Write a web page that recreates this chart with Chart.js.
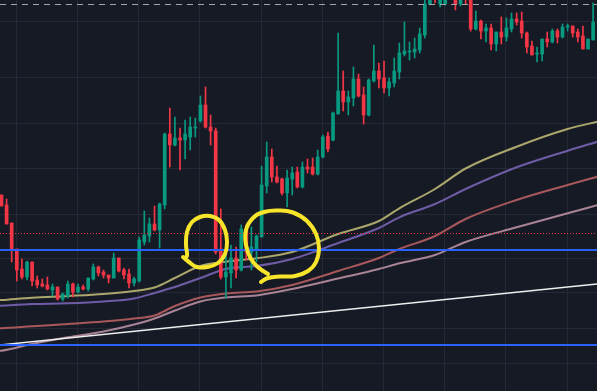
<!DOCTYPE html>
<html><head><meta charset="utf-8">
<script src="https://cdn.jsdelivr.net/npm/chart.js@4.4.0/dist/chart.umd.min.js"></script>
<style>html,body{margin:0;padding:0;background:#161a25;overflow:hidden}#wrap{width:597px;height:391px}canvas{display:block;background:#161a25}</style>
</head><body><div id="wrap"><canvas id="c" width="597" height="391"></canvas></div>
<script>
// Candles (index 0..116), price units
const opens = [19.6,18.6,16.8,14.2,12.2,11.4,12.9,11.1,10.7,10.6, 10.1,10.4,9.2,9.5,10.7,9.9,10.4,10.2,11.2,12.4, 11.9,11.6,11.3,13.3,12.1,11.7,10.8,11.0,14.9,15.5, 16.7,16.1,18.6,25.7,24.6,25.3,25.1,25.4,26.3,27.0, 28.6,26.4,26.0,14.2,11.4,11.8,13.3,12.1,16.1,13.9, 14.2,15.4,20.5,23.4,21.4,21.2,19.8,21.2,21.9,20.4, 22.4,22.4,21.7,23.4,25.5,25.1,27.7,30.0,28.9,29.3, 31.2,29.6,27.6,31.0,32.0,31.3,30.3,30.8,31.9,33.7, 33.9,33.9,34.1,35.6,38.7,40.8,38.7,38.7,40.5,40.5, 38.7,40.5,39.6,36.2,37.0,36.0,36.3,34.7,35.9,35.4, 36.2,37.2,37.0,35.8,34.5,33.7,33.7,35.2,34.9,36.0, 35.4,36.4,36.5,35.9,35.5,34.2,35.1];
const closes = [18.5,16.7,14.1,12.1,11.4,12.9,11.0,10.6,10.5,10.2, 10.4,9.2,9.7,10.7,9.9,10.4,10.2,11.3,12.4,11.8, 11.6,11.3,13.3,12.0,11.6,10.8,11.2,15.1,15.6,16.7, 16.1,18.7,25.7,24.6,25.3,25.1,25.7,26.4,26.4,28.6, 26.4,26.0,13.9,11.4,11.9,13.3,12.1,16.2,13.9,14.4, 15.5,20.6,23.4,21.4,20.9,19.8,21.3,21.8,20.4,22.4, 22.2,21.7,23.4,25.4,24.2,27.8,30.0,28.9,29.4,31.2, 29.5,27.6,31.1,32.0,31.2,30.3,30.9,32.0,33.8,34.0, 34.0,34.2,35.7,38.7,40.5,40.0,40.2,39.8,41.5,38.7, 40.0,39.5,36.2,37.0,36.0,36.3,34.7,35.9,35.4,36.3, 37.2,36.9,35.8,34.4,33.6,33.8,35.2,34.9,36.0,35.4, 36.4,36.5,35.8,35.4,34.2,35.2,36.9];
const highs = [19.6,19.2,16.8,14.2,13.2,13.0,12.9,11.5,11.2,11.4, 10.7,10.4,9.8,11.0,10.8,10.7,10.6,11.3,12.7,12.5, 12.1,11.6,13.8,13.3,12.3,12.2,11.4,15.4,18.0,17.3, 18.5,18.8,25.8,28.3,27.4,26.3,27.1,27.4,27.3,29.5, 30.4,27.6,26.3,18.2,14.4,14.6,14.4,16.6,16.6,16.4, 15.6,22.5,24.9,24.2,22.5,21.3,22.1,22.4,22.4,22.9, 23.2,23.3,24.1,25.6,25.9,27.9,35.8,32.0,30.0,32.4, 31.7,30.4,31.2,34.6,32.8,33.0,31.3,33.3,34.8,36.9, 34.9,35.3,36.3,39.6,41.0,41.5,41.0,40.5,42.0,41.0, 40.5,41.0,40.0,38.0,37.1,36.7,36.7,35.9,37.4,37.3, 37.8,37.8,37.9,35.9,35.0,34.4,35.2,35.9,36.2,36.2, 36.7,36.7,36.5,36.2,36.5,35.2,38.8];
const lows = [18.5,16.7,12.9,11.0,11.2,11.1,10.5,10.3,10.4,10.1, 9.5,9.1,9.0,9.3,9.4,9.8,10.1,10.0,11.1,11.5, 11.3,10.8,11.3,11.9,11.2,10.3,10.5,10.9,14.6,14.9, 16.0,14.3,18.2,22.4,24.5,22.1,23.2,24.1,25.4,26.9, 26.3,24.6,13.7,11.2,9.3,10.3,11.3,12.0,13.1,12.1, 12.9,15.4,19.8,20.9,20.8,19.6,18.4,19.6,20.3,20.3, 21.8,21.6,21.6,23.3,23.9,25.0,27.7,28.0,27.6,28.5, 29.4,26.7,27.5,30.9,30.3,29.8,29.5,30.4,31.2,33.5, 33.1,33.3,33.8,35.3,38.6,38.8,38.4,38.6,40.0,38.1, 38.5,38.7,36.0,36.1,35.2,34.9,34.1,34.0,34.7,35.0, 35.9,36.6,35.3,33.8,33.6,32.9,33.0,34.4,34.8,34.8, 35.3,36.0,35.4,34.9,34.2,34.2,35.1];

// Moving averages sampled at candle indices
const maIndex  = [-1, 0, 6, 13, 20, 26, 30, 34, 39, 44, 50, 57, 66, 74, 78, 85, 91, 101, 111, 117];
const maYellow = [9.07, 9.1, 9.33, 9.5, 9.7, 10.0, 10.35, 11.3, 12.5, 12.93, 13.27, 13.9, 15.7, 17.0, 18.27, 20.2, 22.25, 24.43, 26.2, 26.95];
const maPurple = [8.5, 8.53, 8.7, 8.77, 8.95, 9.25, 9.8, 10.4, 11.3, 12.2, 12.5, 13.2, 14.8, 16.3, 17.37, 18.7, 20.2, 22.37, 24.03, 24.95];
const maRed    = [6.25, 6.27, 6.47, 6.7, 6.95, 7.25, 7.55, 8.5, 9.35, 9.75, 9.95, 10.6, 12.0, 13.3, 14.2, 15.5, 17.2, 19.1, 20.6, 21.45];
const maPink   = [4.0, 4.03, 4.7, 5.37, 5.95, 6.65, 7.25, 8.05, 8.95, 9.35, 9.55, 10.2, 11.25, 12.2, 12.77, 13.6, 14.9, 16.37, 17.77, 18.6];

// Drawn levels / trend line
const trendIndex = [-0.3, 116.8];
const trendPrice = [4.6, 10.7];
const blueLevels = [14.1, 4.6];
const dottedLevel = 15.75;
const dashedLevel = 38.65;

// Hand-drawn circles (index, price)
const circle1Index = [35.59, 36.76, 38.33, 40.29, 42.45, 43.82, 44.22, 43.82, 42.65, 40.88, 38.92, 37.35, 36.37, 36.18, 36.37, 35.78];
const circle1Price = [13.4, 12.9, 12.4, 12.4, 12.8, 13.7, 14.9, 16.1, 17.1, 17.5, 17.4, 16.9, 15.9, 14.6, 13.5, 13.3];
const circle2Index = [50.88, 52.25, 54.61, 57.55, 60.1, 61.67, 62.25, 61.67, 59.9, 57.16, 54.22, 51.47, 49.31, 47.94, 47.94, 48.92, 50.49, 52.25];
const circle2Price = [10.9, 11.3, 11.45, 11.5, 12.0, 12.9, 14.3, 15.7, 17.0, 17.85, 18.05, 17.9, 17.3, 16.1, 14.6, 13.2, 12.3, 11.7];

// Axes
const xMin = -0.294, xMax = 116.76, yMin = 0, yMax = 39.1;
const xTicks = [8.9, 20.9, 32.9, 44.9, 56.9, 68.9, 80.9, 92.9, 104.9];
const yTicks = [2.77, 6.27, 9.87, 13.27, 17.67, 22.27, 26.77, 31.37, 36.97];

const UP = '#089981', DOWN = '#f23645';
const candleColor = ctx => closes[ctx.dataIndex] >= opens[ctx.dataIndex] ? UP : DOWN;
const idx = opens.map((_, i) => i);

const bodies = idx.map(i => ({x: i, y: [opens[i], closes[i]]}));
const wicks = idx.map(i => ({x: i, y: [lows[i], highs[i]]}));
const pts = (xs, ys) => xs.map((x, i) => ({x, y: ys[i]}));
const hline = v => [{x: xMin, y: v}, {x: xMax + 2, y: v}];

const lineDs = (data, color, width, order, extra) => Object.assign({
  type: 'line', data, borderColor: color, borderWidth: width, pointRadius: 0,
  fill: false, order
}, extra || {});

new Chart(document.getElementById('c'), {
  type: 'bar',
  data: {
    datasets: [
      lineDs(pts(circle1Index, circle1Price), '#f7e52b', 4, 0, {tension: 0.45, borderCapStyle: 'round', borderJoinStyle: 'round'}),
      lineDs(pts(circle2Index, circle2Price), '#f7e52b', 4, 0, {tension: 0.45, borderCapStyle: 'round', borderJoinStyle: 'round'}),
      lineDs(hline(dottedLevel), '#f23645', 1, 1, {borderDash: [1, 2]}),
      lineDs(hline(dashedLevel), '#a3a6af', 1, 1, {borderDash: [6, 5]}),
      lineDs(hline(blueLevels[0]), '#2962ff', 2.2, 2),
      lineDs(hline(blueLevels[1]), '#2962ff', 2.2, 2),
      lineDs(pts(trendIndex, trendPrice), '#eeeeee', 1.4, 3),
      {type: 'bar', data: bodies, backgroundColor: candleColor, barThickness: 3, grouped: false, minBarLength: 1, order: 4},
      {type: 'bar', data: wicks, backgroundColor: candleColor, barThickness: 1, grouped: false, order: 5},
      lineDs(pts(maIndex, maYellow), '#aaa66c', 2, 6, {cubicInterpolationMode: 'monotone'}),
      lineDs(pts(maIndex, maPurple), '#6f5ca6', 2, 7, {cubicInterpolationMode: 'monotone'}),
      lineDs(pts(maIndex, maRed), '#a8585b', 2, 8, {cubicInterpolationMode: 'monotone'}),
      lineDs(pts(maIndex, maPink), '#a88494', 2, 9, {cubicInterpolationMode: 'monotone'})
    ]
  },
  options: {
    responsive: false, animation: false, events: [],
    layout: {padding: 0},
    plugins: {legend: {display: false}, tooltip: {enabled: false}},
    scales: {
      x: {type: 'linear', min: xMin, max: xMax, offset: false,
          grid: {color: '#252935', lineWidth: 1, drawTicks: false}, border: {display: false},
          ticks: {display: false}, afterBuildTicks: s => { s.ticks = xTicks.map(v => ({value: v})); }},
      y: {type: 'linear', min: yMin, max: yMax,
          grid: {color: '#252935', lineWidth: 1, drawTicks: false}, border: {display: false},
          ticks: {display: false}, afterBuildTicks: s => { s.ticks = yTicks.map(v => ({value: v})); }}
    }
  }
});
</script>
</body></html>
